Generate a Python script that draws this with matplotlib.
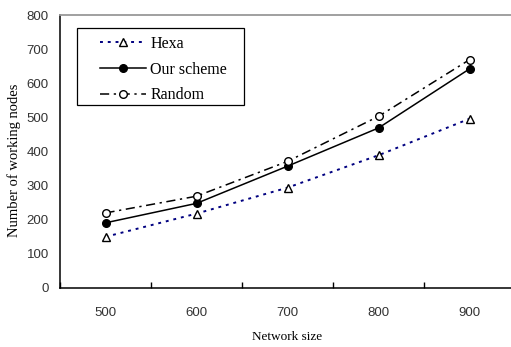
import matplotlib
matplotlib.use("Agg")
import matplotlib.pyplot as plt
from matplotlib.patches import Rectangle
import numpy as np

sizes = ["500", "600", "700", "800", "900"]
hexa = [150, 218, 294, 389, 496]
ours = [191, 248, 357, 469, 642]
rand = [220, 269, 371, 503, 669]
yticks = [0, 100, 200, 300, 400, 500, 600, 700, 800]

fig = plt.figure(figsize=(5.11, 3.47), dpi=100)
ax = fig.add_axes([60 / 511, 1 - 288 / 347, 455 / 511, 273 / 347])
x = np.arange(len(sizes))

ax.plot(x, hexa, color="#000080", ls=(0, (1.5, 2.5)), lw=1.4, marker="^",
        ms=5.5, mfc="white", mec="black", mew=1.0, label="Hexa")
ax.plot(x, ours, color="black", ls="-", lw=1.1, marker="o",
        ms=5.5, mfc="black", mec="black", label="Our scheme")
ax.plot(x, rand, color="black", ls=(0, (6, 3, 1.5, 3)), lw=1.1, marker="o",
        ms=5.5, mfc="white", mec="black", mew=1.0, label="Random")

ax.set_xlim(-0.5, 4.5)
ax.set_ylim(0, 800)
ax.set_xticks(x)
ax.set_xticklabels(sizes)
ax.set_xticks(np.arange(-0.5, 5, 1), minor=True)
ax.set_yticks(yticks)
ax.tick_params(axis="x", which="major", length=0, pad=14, labelsize=9.5, labelcolor="#333333")
ax.tick_params(axis="x", which="minor", direction="in", length=4, width=1)
ax.tick_params(axis="y", length=0, pad=8, labelsize=9.5, labelcolor="#333333")
for lab in ax.get_xticklabels() + ax.get_yticklabels():
    lab.set_family("Liberation Sans")

ax.spines["top"].set_color("#999999")
ax.spines["top"].set_linewidth(1.3)
ax.spines["left"].set_linewidth(1.1)
ax.spines["bottom"].set_linewidth(1.1)

ax.set_xlabel("Network size", family="Liberation Serif", fontsize=9.5, labelpad=8)
fig.text(0.027, 1 - 237 / 347, "Number of working nodes", rotation=90,
         family="Liberation Serif", fontsize=10.5, va="bottom", ha="center")

# legend box drawn by hand so the padding can differ left/right vs top/bottom
ax.add_patch(Rectangle((17 / 455, 1 - 90 / 273), 167 / 455, 77 / 273,
                       transform=ax.transAxes, fill=True, fc="white",
                       ec="black", lw=0.9, zorder=4))
leg = ax.legend(loc="upper left", bbox_to_anchor=(40 / 455, 1 - 21 / 273),
                prop={"family": "Liberation Serif", "size": 11.5},
                frameon=False, handlelength=2.9, handletextpad=0.25,
                labelspacing=0.6, borderpad=0, borderaxespad=0)
leg.set_zorder(5)

fig.savefig("out.png", dpi=100)
